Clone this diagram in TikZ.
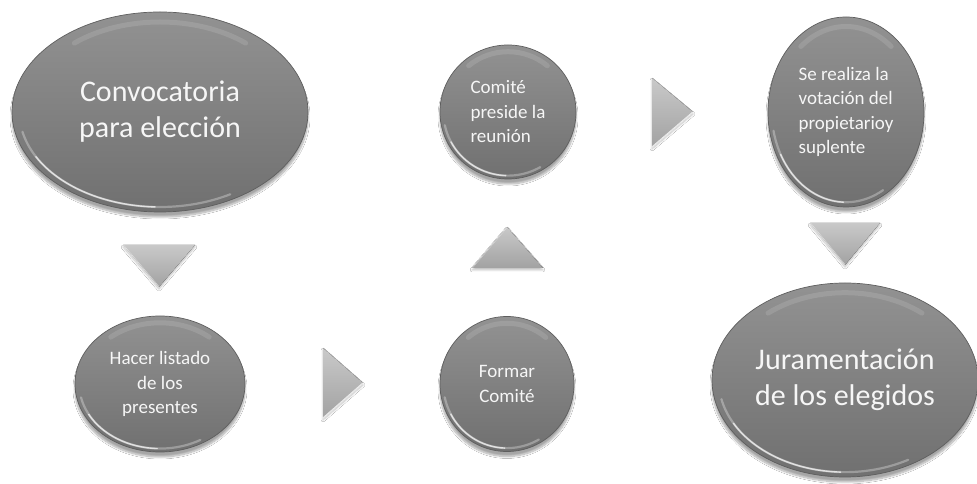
\documentclass[tikz,border=0pt]{standalone}
\usepackage{fontspec}
\setmainfont{Carlito}
\usetikzlibrary{shapes.geometric,shadows.blur}
\definecolor{ellTop}{HTML}{929292}
\definecolor{ellBot}{HTML}{707070}
\definecolor{ellEdge}{HTML}{5E5E5E}
\definecolor{txt}{HTML}{F6F6F6}
\definecolor{triTop}{HTML}{C9C9C9}
\definecolor{triBot}{HTML}{A2A2A2}
\newcommand\glint[3]{%
  \draw[hl,opacity=0.3,line width=2.2pt] (#1.center) ++(192:{0.95*#2} and {0.95*#3})
    arc[start angle=192,end angle=300,x radius={0.95*#2},y radius={0.95*#3}];
  \draw[hl,opacity=0.7] (#1.center) ++(208:{0.95*#2} and {0.95*#3})
    arc[start angle=208,end angle=268,x radius={0.95*#2},y radius={0.95*#3}];
  \draw[sheen] (#1.center) ++(50:{0.9*#2} and {0.9*#3})
    arc[start angle=50,end angle=130,x radius={0.9*#2},y radius={0.9*#3}];}
\begin{document}
\begin{tikzpicture}[x=1pt,y=1pt,
  bub/.style={ellipse, inner sep=0pt, top color=ellTop, bottom color=ellBot,
    draw=ellEdge, line width=0.7pt, text=txt, align=center,
    blur shadow={shadow xshift=0pt,shadow yshift=-5pt,shadow blur steps=10,shadow opacity=35}},
  bigtxt/.style={font=\fontsize{30}{36}\selectfont},
  smalltxt/.style={font=\fontsize{19}{24.5}\selectfont},
  hl/.style={white,line width=1.4pt,line cap=round},
  sheen/.style={white,opacity=0.12,line width=5pt,line cap=round},
  tri/.style={top color=triTop,bottom color=triBot,draw=none,
    blur shadow={shadow xshift=0pt,shadow yshift=-2pt,shadow blur steps=6,shadow opacity=25}},
  trihl/.style={white,opacity=0.8,line width=1.2pt,line cap=round}]
\fill[white] (0,0) rectangle (977,484);
\useasboundingbox (0,0) rectangle (977,484);

% ellipses
\node[bub,bigtxt,minimum width=296pt,minimum height=200pt] (E1) at (160,372) {Convocatoria\\para elección};
\node[bub,smalltxt,minimum width=170pt,minimum height=136pt] (E2) at (160,100) {Hacer listado\\de los\\presentes};
\node[bub,smalltxt,minimum width=134pt,minimum height=135pt] (E3) at (507,100) {Formar\\Comité};
\node[bub,smalltxt,align=left,minimum width=136pt,minimum height=134pt] (E4) at (508,372) {Comité\\preside la\\reunión};
\node[bub,smalltxt,align=left,minimum width=156pt,minimum height=190pt] (E5) at (846,372) {Se realiza la\\votación del\\propietarioy\\suplente};
\node[bub,bigtxt,minimum width=266pt,minimum height=194pt] (E6) at (845,104) {Juramentación\\de los elegidos};

\glint{E1}{148pt}{100pt}
\glint{E2}{85pt}{68pt}
\glint{E3}{67pt}{67.5pt}
\glint{E4}{68pt}{67pt}
\glint{E5}{78pt}{95pt}
\glint{E6}{133pt}{97pt}

% arrow triangles
\coordinate (t1a) at (123,239); \coordinate (t1b) at (195,239); \coordinate (t1c) at (159,197);
\fill[tri] (t1a) -- (t1b) -- (t1c) -- cycle;
\draw[trihl,opacity=0.5] (t1a) -- (t1c);

\coordinate (t2a) at (323,136); \coordinate (t2b) at (323,66); \coordinate (t2c) at (363,101);
\fill[tri] (t2a) -- (t2c) -- (t2b) -- cycle;
\draw[trihl] (t2b) -- (t2c);

\coordinate (t3a) at (472,216); \coordinate (t3b) at (543,216); \coordinate (t3c) at (507,257);
\fill[tri] (t3a) -- (t3b) -- (t3c) -- cycle;
\draw[trihl,opacity=0.4] (t3a) -- (t3c);

\coordinate (t4a) at (652,406); \coordinate (t4b) at (652,337); \coordinate (t4c) at (693,372);
\fill[tri] (t4a) -- (t4c) -- (t4b) -- cycle;
\draw[trihl] (t4b) -- (t4c);

\coordinate (t5a) at (810,261); \coordinate (t5b) at (880,261); \coordinate (t5c) at (845,219);
\fill[tri] (t5a) -- (t5b) -- (t5c) -- cycle;
\draw[trihl,opacity=0.5] (t5a) -- (t5c);
\end{tikzpicture}
\end{document}
